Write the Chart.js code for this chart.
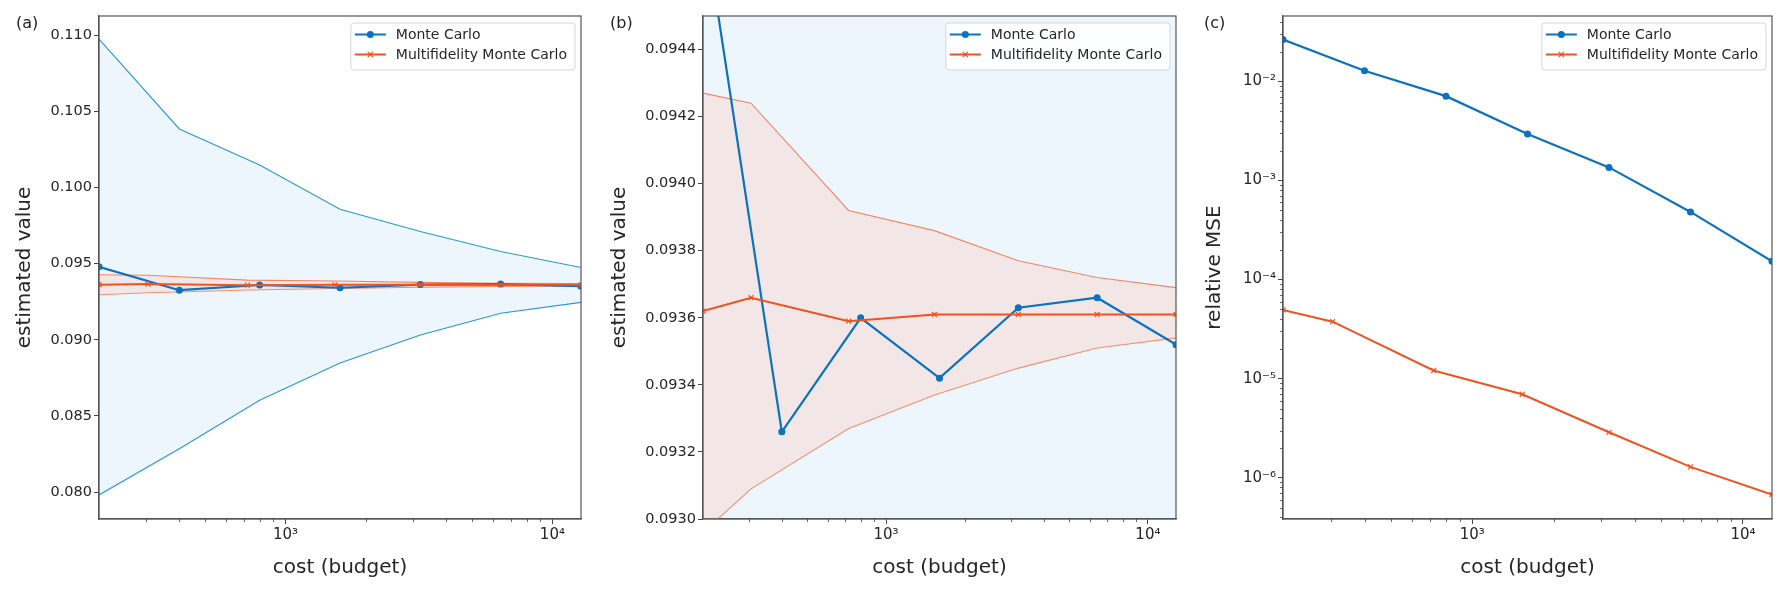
<!DOCTYPE html>
<html>
<head>
<meta charset="utf-8">
<script src="https://cdn.jsdelivr.net/npm/chart.js@4.4.0/dist/chart.umd.min.js"></script>
<style>
  body { margin: 0; background: #fff; width: 1787px; height: 595px; overflow: hidden; position: relative; font-family: 'DejaVu Sans', sans-serif; }
  canvas { position: absolute; top: 0; }
  .tag { position: absolute; top: 13px; font-size: 16px; color: #222; }
</style>
</head>
<body>
<canvas id="chartA" width="595" height="595" style="left:0"></canvas>
<canvas id="chartB" width="595" height="595" style="left:595px"></canvas>
<canvas id="chartC" width="597" height="595" style="left:1190px"></canvas>
<div class="tag" style="left:16px">(a)</div>
<div class="tag" style="left:610px">(b)</div>
<div class="tag" style="left:1204px">(c)</div>
<script>
// costs at which each estimator was evaluated
const mcCost = [200, 400, 800, 1600, 3200, 6400, 12800];
const mfmcCost = [200, 305, 720, 1530, 3200, 6400, 12800];

// estimated value with +/- spread (panels a, b)
const mcMean = [0.0948, 0.09326, 0.09360, 0.09342, 0.09363, 0.09366, 0.09352];
const mcUpper = [0.10975, 0.10385, 0.10148, 0.09857, 0.09712, 0.09580, 0.09475];
const mcLower = [0.07981, 0.08285, 0.08603, 0.08848, 0.09032, 0.09174, 0.09246];
const mfmcMean = [0.09362, 0.09366, 0.09359, 0.09361, 0.09361, 0.09361, 0.09361];
const mfmcUpper = [0.09427, 0.09424, 0.09392, 0.09386, 0.09377, 0.09372, 0.09369];
const mfmcLower = [0.09296, 0.09309, 0.09327, 0.09337, 0.09345, 0.09351, 0.09354];

// relative MSE (panel c)
const mcMse = [0.0264, 0.0128, 0.0071, 0.00294, 0.001356, 0.000482, 0.000153];
const mfmcMse = [4.94e-5, 3.76e-5, 1.21e-5, 6.97e-6, 2.88e-6, 1.29e-6, 6.79e-7];

// tick labels
const xTicks = [1000, 10000];
const yTicksA = [0.080, 0.085, 0.090, 0.095, 0.100, 0.105, 0.110];
const yTicksB = [0.0930, 0.0932, 0.0934, 0.0936, 0.0938, 0.0940, 0.0942, 0.0944];
const yTicksC = [1e-6, 1e-5, 1e-4, 1e-3, 1e-2];

const MC_COLOR = '#0a72bf';
const MFMC_COLOR = '#ee5321';
const FONT = "'DejaVu Sans', sans-serif";
const TEXT = '#262626';

const SUP = { '0': '⁰', '1': '¹', '2': '²', '3': '³', '4': '⁴', '5': '⁵', '6': '⁶', '7': '⁷', '8': '⁸', '9': '⁹', '-': '⁻' };
const pow10Label = v => '10' + String(Math.round(Math.log10(v))).split('').map(c => SUP[c]).join('');

// minor tick positions on log axes
function logMinors(lo, hi) {
  const out = [];
  for (let e = Math.floor(Math.log10(lo)); e <= Math.ceil(Math.log10(hi)); e++) {
    for (let k = 2; k <= 9; k++) {
      const v = k * Math.pow(10, e);
      if (v > lo && v < hi) out.push(v);
    }
  }
  return out;
}

const pts = (xs, ys) => xs.map((x, i) => ({ x: x, y: ys[i] }));

function meanSet(label, xs, ys, color, style, legendIdx) {
  return {
    label: label, data: pts(xs, ys), showInLegend: true, legendIdx: legendIdx,
    borderColor: color, backgroundColor: color, borderWidth: style === 'circle' ? 2.2 : 2, tension: 0,
    pointStyle: style, pointRadius: 3.5, pointBorderWidth: style === 'circle' ? 0 : 1.2,
    pointBorderColor: color, pointBackgroundColor: color, fill: false, clip: 0
  };
}

function bandSets(xs, up, lo, line, fillColor) {
  return [
    { label: 'up', data: pts(xs, up), borderColor: line, borderWidth: 1.1, pointRadius: 0, tension: 0, fill: '+1', backgroundColor: fillColor, clip: 0 },
    { label: 'lo', data: pts(xs, lo), borderColor: line, borderWidth: 1.1, pointRadius: 0, tension: 0, fill: false, clip: 0 }
  ];
}

const frame = {
  id: 'frame',
  afterDraw(chart) {
    const a = chart.chartArea, ctx = chart.ctx;
    ctx.save();
    ctx.strokeStyle = '#555';
    ctx.lineWidth = 1.2;
    ctx.strokeRect(a.left, a.top, a.right - a.left, a.bottom - a.top);
    ctx.restore();
  }
};

const minorTicks = {
  id: 'minorTicks',
  afterDraw(chart, args, opts) {
    const a = chart.chartArea, ctx = chart.ctx;
    ctx.save();
    ctx.strokeStyle = '#444';
    ctx.lineWidth = 0.8;
    ctx.beginPath();
    (opts.x || []).forEach(v => {
      const px = Math.round(chart.scales.x.getPixelForValue(v)) + 0.5;
      ctx.moveTo(px, a.bottom); ctx.lineTo(px, a.bottom + 3);
    });
    (opts.y || []).forEach(v => {
      const py = Math.round(chart.scales.y.getPixelForValue(v)) + 0.5;
      ctx.moveTo(a.left - 3, py); ctx.lineTo(a.left, py);
    });
    ctx.stroke();
    ctx.restore();
  }
};

const legendBox = {
  id: 'legendBox',
  afterDraw(chart) {
    const ctx = chart.ctx, a = chart.chartArea;
    const items = chart.data.datasets.filter(d => d.showInLegend).sort((p, q) => p.legendIdx - q.legendIdx);
    ctx.save();
    ctx.font = '14px ' + FONT;
    const tw = Math.max(...items.map(d => ctx.measureText(d.label).width));
    const w = tw + 53, h = 47;
    const x0 = a.right - 6 - w, y0 = a.top + 7;
    ctx.beginPath();
    ctx.roundRect(x0, y0, w, h, 3);
    ctx.fillStyle = 'rgba(255,255,255,0.85)';
    ctx.fill();
    ctx.strokeStyle = '#d6d6d6';
    ctx.lineWidth = 1;
    ctx.stroke();
    items.forEach((d, i) => {
      const cy = y0 + 11.5 + i * 20;
      ctx.strokeStyle = d.borderColor;
      ctx.lineWidth = 2;
      ctx.beginPath(); ctx.moveTo(x0 + 4, cy); ctx.lineTo(x0 + 35, cy); ctx.stroke();
      const mx = x0 + 19.5;
      if (d.pointStyle === 'circle') {
        ctx.fillStyle = d.borderColor;
        ctx.beginPath(); ctx.arc(mx, cy, 3.5, 0, Math.PI * 2); ctx.fill();
      } else {
        ctx.lineWidth = 1.2;
        ctx.beginPath();
        ctx.moveTo(mx - 2.6, cy - 2.6); ctx.lineTo(mx + 2.6, cy + 2.6);
        ctx.moveTo(mx - 2.6, cy + 2.6); ctx.lineTo(mx + 2.6, cy - 2.6);
        ctx.stroke();
      }
      ctx.fillStyle = TEXT;
      ctx.textBaseline = 'middle';
      ctx.fillText(d.label, x0 + 45, cy + 0.5);
    });
    ctx.restore();
  }
};

function makeChart(id, p) {
  return new Chart(document.getElementById(id).getContext('2d'), {
    type: 'line',
    data: { datasets: p.datasets },
    plugins: [frame, minorTicks, legendBox],
    options: {
      responsive: false,
      animation: false,
      layout: { padding: { top: 16, right: p.padRight, left: 0, bottom: 0 } },
      plugins: {
        legend: { display: false },
        tooltip: { enabled: false },
        minorTicks: { x: logMinors(200, 12800), y: p.minorY || [] }
      },
      scales: {
        x: {
          type: 'logarithmic', min: 200, max: 12800,
          afterBuildTicks: s => { s.ticks = xTicks.map(v => ({ value: v, major: true })); },
          afterFit: s => { s.height = 76; },
          grid: { drawOnChartArea: false, drawTicks: true, tickLength: 5, tickColor: '#444' },
          border: { display: true, color: '#555', width: 1.2 },
          ticks: { autoSkip: false, maxRotation: 0, padding: 2, color: TEXT, font: { family: FONT, size: 15 }, callback: v => pow10Label(v) },
          title: { display: true, text: 'cost (budget)', color: TEXT, font: { family: FONT, size: 20 }, padding: { top: 0, bottom: 15 } }
        },
        y: {
          type: p.yType, min: p.yMin, max: p.yMax,
          afterBuildTicks: s => { s.ticks = p.yTicks.map(v => ({ value: v, major: true })); },
          afterFit: s => { s.width = p.yWidth; },
          grid: { drawOnChartArea: false, drawTicks: true, tickLength: 5, tickColor: '#444' },
          border: { display: true, color: '#555', width: 1.2 },
          ticks: { autoSkip: false, padding: 2, color: TEXT, font: { family: FONT, size: p.yFontSize || 14.5 }, callback: p.yFmt },
          title: { display: true, text: p.yTitle, color: TEXT, font: { family: FONT, size: 20 }, padding: { top: 13, bottom: 0 } }
        }
      }
    }
  });
}

function estimateSets() {
  return [
    meanSet('Multifidelity Monte Carlo', mfmcCost, mfmcMean, MFMC_COLOR, 'crossRot', 1),
    meanSet('Monte Carlo', mcCost, mcMean, MC_COLOR, 'circle', 0),
    ...bandSets(mfmcCost, mfmcUpper, mfmcLower, '#f38663', 'rgba(250,196,180,0.32)'),
    ...bandSets(mcCost, mcUpper, mcLower, '#2799d8', 'rgba(0,120,220,0.065)')
  ];
}

makeChart('chartA', {
  datasets: estimateSets(),
  yType: 'linear', yMin: 0.07823, yMax: 0.11127, yTicks: yTicksA,
  yFmt: v => v.toFixed(3), yTitle: 'estimated value', yWidth: 99, padRight: 14
});

makeChart('chartB', {
  datasets: estimateSets(),
  yType: 'linear', yMin: 0.0930, yMax: 0.0945, yTicks: yTicksB,
  yFmt: v => v.toFixed(4), yTitle: 'estimated value', yWidth: 108, padRight: 14
});

makeChart('chartC', {
  datasets: [
    meanSet('Multifidelity Monte Carlo', mfmcCost, mfmcMse, MFMC_COLOR, 'crossRot', 1),
    meanSet('Monte Carlo', mcCost, mcMse, MC_COLOR, 'circle', 0)
  ],
  yType: 'logarithmic', yMin: 3.84e-7, yMax: 0.0457, yTicks: yTicksC,
  yFmt: v => pow10Label(v), yFontSize: 15, yTitle: 'relative MSE', yWidth: 93, padRight: 15,
  minorY: logMinors(3.84e-7, 0.0457)
});
</script>
</body>
</html>
